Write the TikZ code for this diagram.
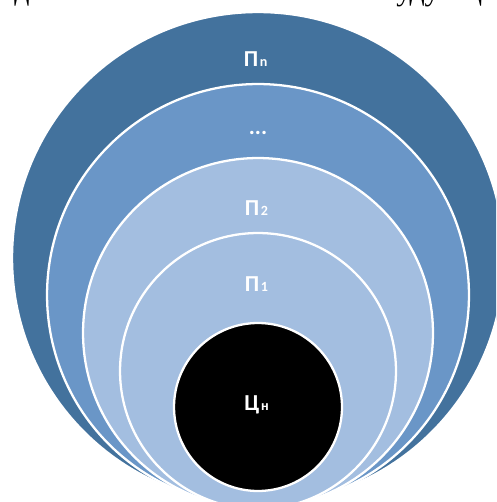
\documentclass[tikz,border=0pt]{standalone}
\usepackage{fontspec}
\setmainfont{Liberation Serif}
\newfontfamily\lblfont{Carlito}
\usetikzlibrary{positioning}
\definecolor{ringdark}{RGB}{67,114,157}
\definecolor{ringmid}{RGB}{106,150,199}
\definecolor{ringlight}{RGB}{163,190,224}
\tikzset{
    ring/.style={circle, draw=white, line width=1.3pt, inner sep=0pt},
    lbl/.style={text=white, font=\lblfont\bfseries\fontsize{13}{15}\selectfont, inner sep=0pt},
    sub/.style={text=white, font=\lblfont\bfseries\fontsize{8}{9}\selectfont, inner sep=0pt},
    pagetext/.style={font=\fontsize{17}{20}\selectfont, inner sep=0pt, anchor=base},
}
\begin{document}
\begin{tikzpicture}[x=0.02cm, y=-0.02cm]
    \useasboundingbox (0,0) rectangle (496,502);
    \clip (0,0) rectangle (496,502);
    % nested circles, outermost first
    \node[ring, fill=ringdark, minimum size=9.84cm] (ringn) at (258,258) {};
    \node[ring, fill=ringmid, minimum size=8.44cm] (ringdots) at (258,295) {};
    \node[ring, fill=ringlight, minimum size=7.0cm] (ring2) at (258,333) {};
    \node[ring, fill=ringlight, minimum size=5.52cm] (ring1) at (258,371) {};
    \node[ring, fill=black, minimum size=3.36cm] (core) at (258,407) {};
    % labels
    \node[lbl] (pn) at (251,59) {П};
    \node[sub, right=0.5pt of pn.base east, anchor=base west] (pnsub) {n};
    \node[lbl] (dots) at (258,133) {...};
    \node[lbl] (p2) at (252,208) {П};
    \node[sub, right=0.5pt of p2.base east, anchor=base west] (p2sub) {2};
    \node[lbl] (p1) at (252,284) {П};
    \node[sub, right=0.5pt of p1.base east, anchor=base west] (p1sub) {1};
    \node[lbl] (cn) at (252,405) {Ц};
    \node[sub, right=0.5pt of cn.base east, anchor=base west] (cnsub) {н};
    % cut-off line of page text above
    \node[pagetext] (txtleft) at (22,1) {д};
    \node[pagetext] (txtright) at (418,1) {уду};
    \node[pagetext] (txtend) at (474,1) {ц};
\end{tikzpicture}
\end{document}
